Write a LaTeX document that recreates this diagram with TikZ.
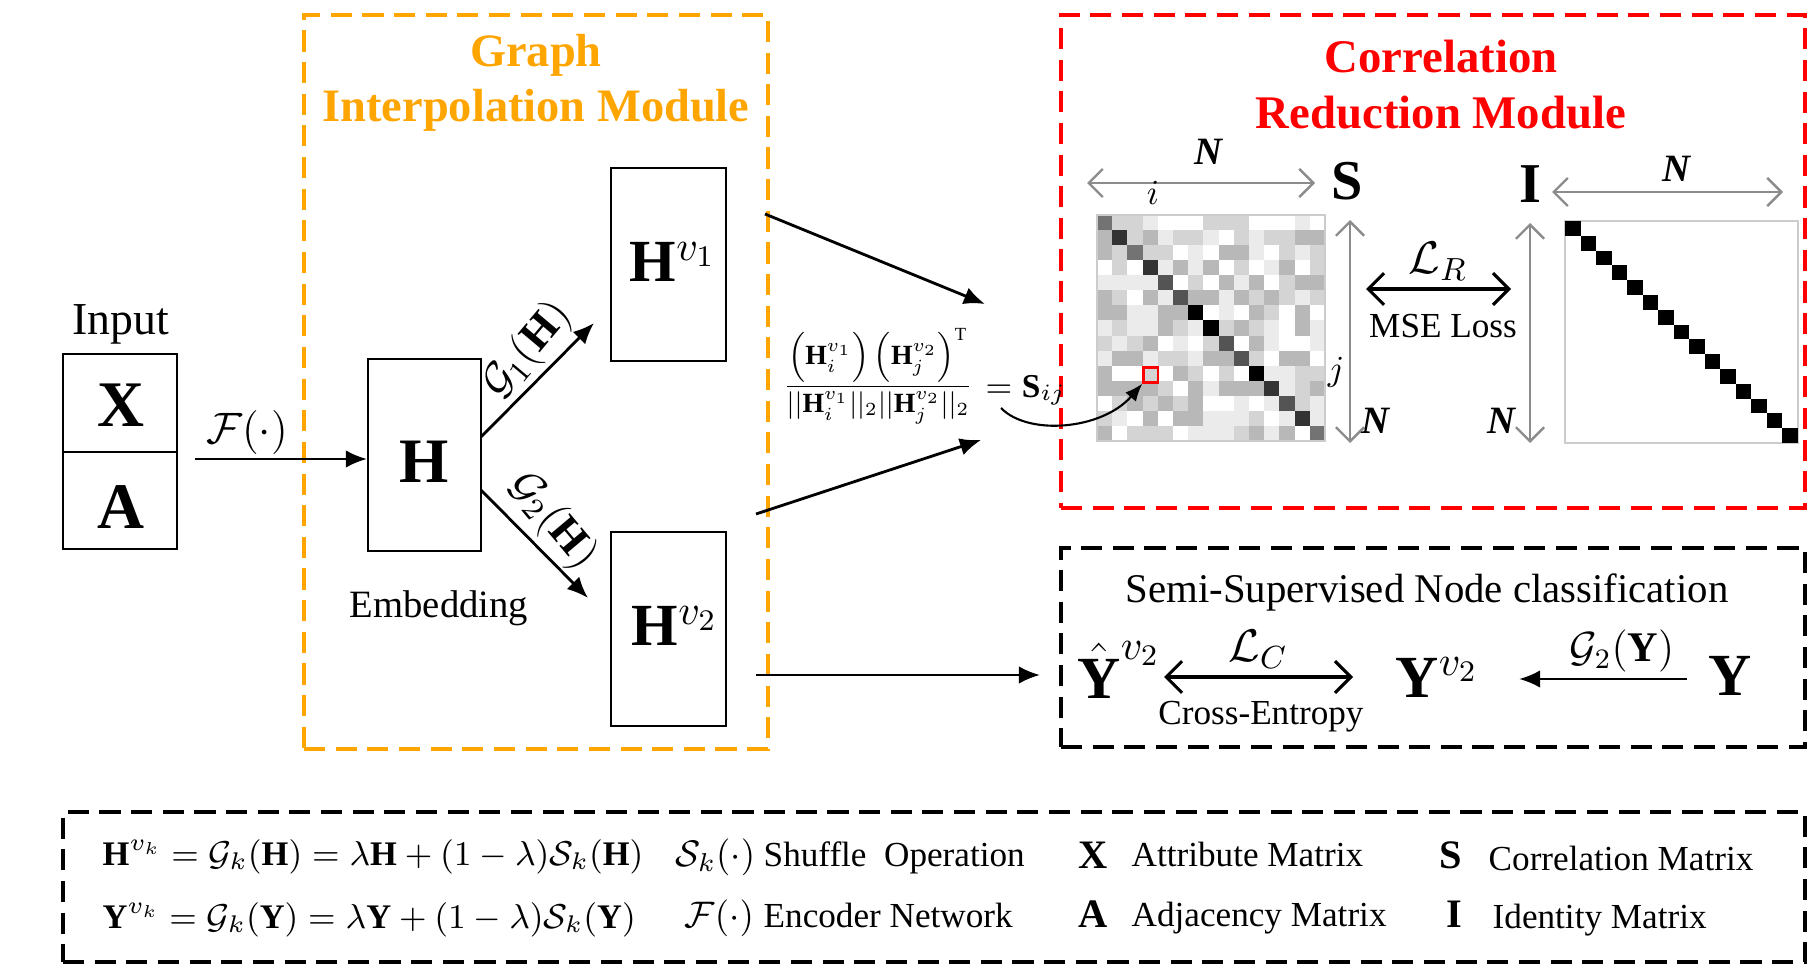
\RequirePackage{fix-cm}
\documentclass[tikz,border=0pt]{standalone}
\usepackage{amsmath,amssymb}
\usepackage{fontspec}
\setmainfont{Liberation Serif}
\usetikzlibrary{arrows.meta,fit,calc}
\definecolor{orng}{RGB}{255,165,0}
\definecolor{myred}{RGB}{255,0,0}
\definecolor{arrgray}{RGB}{140,140,140}
\newcommand{\sz}[2]{\fontsize{#1}{#2}\selectfont}
\begin{document}
\begin{tikzpicture}[x=0.01cm,y=-0.01cm,
  box/.style={draw, line width=0.8pt, inner sep=0pt},
  dashbox/.style={draw, line width=1pt, dash pattern=on 6pt off 3pt, inner sep=0pt},
  arr/.style={-{Latex[length=6pt,width=5pt]}, line width=0.8pt},
  dbl/.style={{Straight Barb[length=4.5pt,width=9pt]}-{Straight Barb[length=4.5pt,width=9pt]}, line width=0.9pt},
  gdbl/.style={{Straight Barb[length=4pt,width=8pt]}-{Straight Barb[length=4pt,width=8pt]}, draw=arrgray, line width=0.7pt},
  lbl/.style={inner sep=0pt, align=center},
  nlbl/.style={inner sep=0pt, font=\sz{11}{13}\bfseries\itshape}]
\useasboundingbox (0,0) rectangle (1817,979);
\fill[white] (0,0) rectangle (1817,979);

% ---------- module frames ----------
\node[dashbox, draw=orng, fit={(304,15)(768,749)}] (gim) {};
\node[dashbox, draw=myred, fit={(1061,15)(1805,508)}] (crm) {};
\node[dashbox, draw=black, fit={(1061,548)(1805,747)}] (ssn) {};
\node[dashbox, draw=black, fit={(63,812)(1805,962)}] (legend) {};

\node[lbl, text=orng, font=\sz{13.2}{15.6}\bfseries] (gtitle) at (536,83) {Graph\\Interpolation Module};
\node[lbl, text=myred, font=\sz{13.3}{15.9}\bfseries] (rtitle) at (1441,85) {Correlation\\Reduction Module};

% ---------- input ----------
\node[lbl, anchor=base, font=\sz{13}{15}] (inputlbl) at (121,334) {Input};
\node[box, fit={(63,354)(177,549)}] (inbox) {};
\draw[line width=0.8pt] (63,452) -- (177,452);
\node[lbl, anchor=base, font=\sz{18.5}{20}\bfseries] (xl) at (121,426) {X};
\node[lbl, anchor=base, font=\sz{18.5}{20}\bfseries] (al) at (121,528) {A};

% ---------- embedding ----------
\node[box, fit={(368,359)(481,551)}] (hbox) {};
\node[lbl, anchor=base, font=\sz{18}{20}\bfseries] (hl) at (424,482) {H};
\node[lbl, anchor=base, font=\sz{11}{13}] (emb) at (439,617) {Embedding};

\coordinate (fa) at (195,459);
\coordinate (fb) at (367,459);
\draw[arr] (fa) -- (fb);
\node[lbl, anchor=base, font=\sz{12.5}{14}] (flbl) at (247,443) {$\mathcal{F}(\cdot)$};

\node[box, fit={(611,168)(726,361)}] (hv1box) {};
\node[lbl, anchor=base, font=\sz{17}{20}] (hv1) at (673,282) {\textbf{H}$^{v_1}$};
\node[box, fit={(611,532)(726,726)}] (hv2box) {};
\node[lbl, anchor=base, font=\sz{17}{20}] (hv2) at (675,646) {\textbf{H}$^{v_2}$};

\coordinate (g1a) at (481,437);
\coordinate (g1b) at (594,323);
\draw[arr] (g1a) -- (g1b);
\node[lbl, rotate=50, font=\sz{12.5}{14}] (g1lbl) at (528,350) {$\mathcal{G}_1(\mathbf{H})$};
\coordinate (g2a) at (481,490);
\coordinate (g2b) at (588,598);
\draw[arr] (g2a) -- (g2b);
\node[lbl, rotate=-50, font=\sz{12.5}{14}] (g2lbl) at (553,521) {$\mathcal{G}_2(\mathbf{H})$};

% ---------- similarity ----------
\coordinate (u1) at (765,214);
\coordinate (u2) at (985,304);
\draw[arr] (u1) -- (u2);
\coordinate (l1) at (756,514);
\coordinate (l2) at (981,440);
\draw[arr] (l1) -- (l2);

\node[lbl, font=\sz{9}{11}] (frac) at (878,376) {\resizebox{1.9cm}{!}{$\displaystyle\frac{\Big(\mathbf{H}_i^{v_1}\Big)\,\Big(\mathbf{H}_j^{v_2}\Big)^{\mathrm{T}}}{||\mathbf{H}_i^{v_1}||_2||\mathbf{H}_j^{v_2}||_2}$}};
\node[lbl, anchor=base west, font=\sz{9.5}{11}] (sij) at (985,397) {$=\mathbf{S}_{ij}$};

% ---------- correlation matrix S ----------
\foreach \row [count=\r from 0] in {
 {55,17,17,8,0,0,0,17,17,17,0,0,0,8,0},
 {28,80,17,28,8,17,17,8,0,17,8,17,17,28,28},
 {28,17,55,17,17,0,8,0,28,28,8,0,17,8,17},
 {0,17,0,80,8,28,8,28,0,17,0,8,28,0,17},
 {8,8,8,8,67,0,17,0,28,8,28,0,17,28,28},
 {28,17,0,28,8,67,28,28,8,28,17,28,17,8,17},
 {28,28,8,8,28,28,100,0,8,0,28,17,0,28,0},
 {8,17,8,8,28,17,8,100,17,28,17,8,0,28,8},
 {17,8,17,28,0,8,0,17,67,0,28,8,0,0,8},
 {8,28,28,8,17,17,8,28,28,67,17,0,28,28,0},
 {28,0,0,17,0,28,17,0,17,0,100,8,8,17,17},
 {28,28,28,28,17,0,28,8,28,28,28,80,8,17,28},
 {0,17,28,17,28,17,28,0,0,8,0,8,67,17,8},
 {17,8,0,28,0,28,28,8,8,8,17,0,8,80,8},
 {28,0,17,17,17,0,8,8,8,17,28,8,28,0,55}}{
  \foreach \v [count=\c from 0] in \row {
    \fill[black!\v] ({1097+\c*15.2},{215+\r*15.07}) rectangle ++(15.4,15.27);
  }
}
\node[draw=black!20, line width=0.5pt, inner sep=0pt, fit={(1097,215)(1325,441)}] (smat) {};
\node[draw=myred, line width=0.7pt, inner sep=0pt, fit={(1143.5,367.5)(1158,382.5)}] (redsq) {};
\coordinate (cs) at (1001,408);
\draw[-{Latex[length=5pt,width=4pt]}, line width=0.6pt] (cs) .. controls (1028,436) and (1102,430) .. (redsq.south west);

\coordinate (st1) at (1087,183);
\coordinate (st2) at (1315,183);
\draw[gdbl] (st1) -- (st2);
\node[nlbl, anchor=base] (n1) at (1208,165) {N};
\node[lbl, anchor=base, font=\sz{10}{12}] (il) at (1153,205) {$i$};
\node[lbl, anchor=base, font=\sz{16}{18}\bfseries] (sl) at (1347,200) {S};
\coordinate (sv1) at (1350,220);
\coordinate (sv2) at (1350,443);
\draw[gdbl] (sv1) -- (sv2);
\node[lbl, anchor=base, font=\sz{10}{12}] (jl) at (1336,380) {$j$};
\node[nlbl, anchor=base] (n2) at (1375,433) {N};

\coordinate (lr1) at (1366,289);
\coordinate (lr2) at (1511,289);
\draw[dbl] (lr1) -- (lr2);
\node[lbl, anchor=south, font=\sz{13}{15}] (lrl) at (1438,281) {$\mathcal{L}_R$};
\node[lbl, anchor=base, font=\sz{10}{12}] (mse) at (1443,338) {MSE Loss};

% ---------- identity matrix ----------
\node[lbl, anchor=base, font=\sz{16}{18}\bfseries] (il2) at (1530,203) {I};
\coordinate (iv1) at (1530,223);
\coordinate (iv2) at (1530,443);
\draw[gdbl] (iv1) -- (iv2);
\node[nlbl, anchor=base] (n3) at (1501,433) {N};
\coordinate (it1) at (1552,192);
\coordinate (it2) at (1783,192);
\draw[gdbl] (it1) -- (it2);
\node[nlbl, anchor=base] (n4) at (1676,182) {N};
\node[draw=black!20, line width=0.5pt, inner sep=0pt, fit={(1565,221)(1798,443)}] (imat) {};
\foreach \k in {0,...,14}{
  \fill[black] ({1565+\k*15.53},{221+\k*14.8}) rectangle ++(15.53,14.8);
}

% ---------- semi-supervised ----------
\node[lbl, anchor=base, font=\sz{11.6}{14}] (ssntitle) at (1427,603) {Semi-Supervised Node classification};
\coordinate (b1) at (756,675);
\coordinate (b2) at (1040,675);
\draw[arr] (b1) -- (b2);
\node[lbl, anchor=base, font=\sz{17}{20}] (yhat) at (1119,698) {$\hat{\text{\textbf{Y}}}^{v_2}$};
\coordinate (lc1) at (1164,677);
\coordinate (lc2) at (1353,677);
\draw[dbl] (lc1) -- (lc2);
\node[lbl, anchor=south, font=\sz{13}{15}] (lcl) at (1258,669) {$\mathcal{L}_C$};
\node[lbl, anchor=base, font=\sz{10}{12}] (ce) at (1261,725) {Cross-Entropy};
\node[lbl, anchor=base, font=\sz{17}{20}] (yv2) at (1437,697) {\textbf{Y}$^{v_2}$};
\node[lbl, anchor=base, font=\sz{17}{20}\bfseries] (yl) at (1730,695) {Y};
\coordinate (gy1) at (1687,679);
\coordinate (gy2) at (1519,679);
\draw[arr] (gy1) -- (gy2);
\node[lbl, anchor=south, font=\sz{12}{14}] (gyl) at (1622,673) {$\mathcal{G}_2(\mathbf{Y})$};

% ---------- legend ----------
\node[lbl, anchor=base west, font=\sz{9.8}{12}] (eq1) at (102,865) {$\mathbf{H}^{v_k}=\mathcal{G}_k(\mathbf{H})=\lambda\mathbf{H}+(1-\lambda)\mathcal{S}_k(\mathbf{H})$};
\node[lbl, anchor=base west, font=\sz{9.8}{12}] (eq2) at (102,928) {$\mathbf{Y}^{v_k}=\mathcal{G}_k(\mathbf{Y})=\lambda\mathbf{Y}+(1-\lambda)\mathcal{S}_k(\mathbf{Y})$};
\node[lbl, anchor=base west, font=\sz{10.5}{12}] (skl) at (675,866) {$\mathcal{S}_k(\cdot)$};
\node[lbl, anchor=base west, font=\sz{10}{12}] (sht) at (763,866) {Shuffle\enspace Operation};
\node[lbl, anchor=base west, font=\sz{10.5}{12}] (fkl) at (684,927) {$\mathcal{F}(\cdot)$};
\node[lbl, anchor=base west, font=\sz{10}{12}] (ent) at (763,927) {Encoder Network};
\node[lbl, anchor=base, font=\sz{11.5}{13}\bfseries] (lx) at (1093,868) {X};
\node[lbl, anchor=base west, font=\sz{10}{12}] (lxt) at (1131,866) {Attribute Matrix};
\node[lbl, anchor=base, font=\sz{11.5}{13}\bfseries] (la) at (1093,927) {A};
\node[lbl, anchor=base west, font=\sz{10}{12}] (lat) at (1131,926) {Adjacency Matrix};
\node[lbl, anchor=base, font=\sz{11.5}{13}\bfseries] (ls) at (1451,868) {S};
\node[lbl, anchor=base west, font=\sz{10}{12}] (lst) at (1488,870) {Correlation Matrix};
\node[lbl, anchor=base, font=\sz{11.5}{13}\bfseries] (li) at (1454,927) {I};
\node[lbl, anchor=base west, font=\sz{10}{12}] (lit) at (1492,928) {Identity Matrix};
\end{tikzpicture}
\end{document}
